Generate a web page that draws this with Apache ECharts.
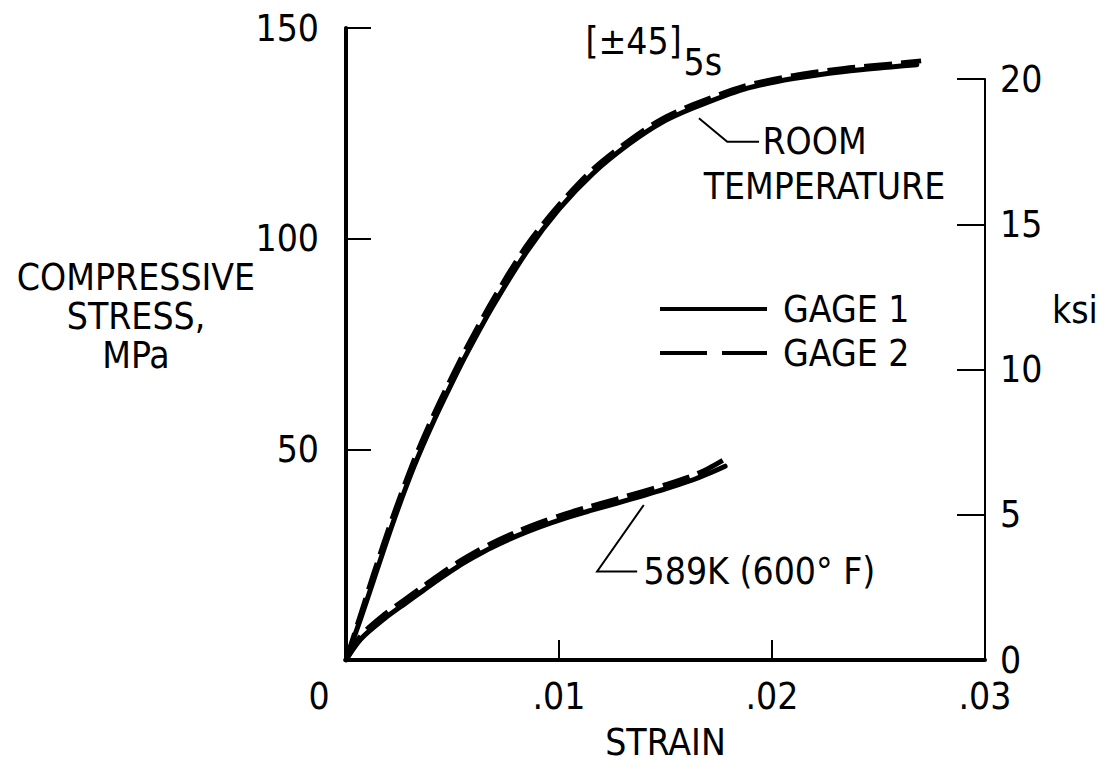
<!DOCTYPE html>
<html>
<head>
<meta charset="utf-8">
<script src="https://cdn.jsdelivr.net/npm/echarts@6/dist/echarts.min.js"></script>
<style>
html,body{margin:0;padding:0;background:#fff;}
#chart{width:1107px;height:768px;}
</style>
</head>
<body>
<div id="chart"></div>
<script>
// ---- Data ----
const xTicks = [0, 0.01, 0.02, 0.03];            // strain
const yTicksMPa = [0, 50, 100, 150];             // MPa
const yTicksKsi = [0, 5, 10, 15, 20];            // ksi

// Room temperature, gage 1 (solid)
const rtStrain1 = [0,0.0007,0.0013,0.0022,0.0032,0.0041,0.0050,0.0057,0.0069,0.0085,0.0100,0.0116,0.0133,0.0148,0.0163,0.0187,0.0210,0.0234,0.0257,0.0268];
const rtStress1 = [0,10,19,32.5,46,56.5,66,73,84,97,107,115.5,122.5,127.5,131,135.5,138,139.7,140.8,141.3];
// Room temperature, gage 2 (dashed)
const rtStrain2 = [0,0.0007,0.0013,0.0022,0.0032,0.0041,0.0050,0.0057,0.0069,0.0085,0.0100,0.0116,0.0133,0.0148,0.0163,0.0187,0.0210,0.0234,0.0257,0.0270];
const rtStress2 = [0,11,20.5,34,47.5,58,67.5,74.5,85.5,98.5,108,116.5,123.3,128.3,131.8,136.2,138.7,140.4,141.5,142.2];
// 589 K, gage 1 (solid)
const htStrain1 = [0,0.0007,0.0018,0.0028,0.0036,0.0044,0.0052,0.0060,0.0068,0.0080,0.0091,0.0103,0.0115,0.0127,0.0138,0.0150,0.0162,0.0170,0.0178];
const htStress1 = [0,5,9.8,13.5,16.4,19.3,22,24.4,26.6,29.4,31.6,33.7,35.5,37.2,38.8,40.6,42.6,44.2,46];
// 589 K, gage 2 (dashed)
const htStrain2 = [0,0.0007,0.0018,0.0028,0.0036,0.0044,0.0052,0.0060,0.0068,0.0080,0.0091,0.0103,0.0115,0.0127,0.0138,0.0150,0.0162,0.0170,0.0179];
const htStress2 = [0,5.8,10.8,14.5,17.4,20.3,23,25.4,27.6,30.4,32.6,34.7,36.5,38.2,39.8,41.6,43.6,45.4,48];

const seriesNames = ['GAGE 1', 'GAGE 2'];

// annotation anchors in data units [strain, MPa]
const roomLeader = [[0.01657,128.6],[0.0179,123.0],[0.01939,123.0]];
const hotLeader  = [[0.01398,36.8],[0.01179,21.0],[0.01367,21.0]];
const annotations = [
  {text:'[±45]', at:[0.01124,146.9]},
  {text:'5s', at:[0.01585,141.7]},
  {text:'ROOM', at:[0.01955,123.0]},
  {text:'TEMPERATURE', at:[0.01679,112.5]},
  {text:'589K (600° F)', at:[0.01397,21.0]}
];

// ---- Chart ----
const FONT_FAMILY = "'Liberation Sans Narrow','DejaVu Sans Condensed','Roboto Condensed',sans-serif";
const FS = 37;
const MPA_PER_KSI = 6.894757;

function pairs(xs, ys){ return xs.map((x,i)=>[x, ys[i]]); }

const chart = echarts.init(document.getElementById('chart'), null, {renderer:'svg'});

const grid0 = {left:346, right:122, top:28, bottom:108};
const ksiTopMPa = 20 * MPA_PER_KSI;
const plotH = 768 - grid0.top - grid0.bottom;
const grid1Top = grid0.top + plotH * (1 - ksiTopMPa/150);

const lineSolid = {color:'#000', width:5, type:'solid', cap:'round', join:'round'};
const lineDash  = {color:'#000', width:5, type:[28,9], cap:'butt', join:'round'};

const option = {
  backgroundColor:'#fff',
  animation:false,
  color:['#000'],
  textStyle:{fontFamily:FONT_FAMILY, color:'#000'},
  grid:[
    grid0,
    {left:346, right:122, top:grid1Top, bottom:108}
  ],
  legend:{
    orient:'vertical',
    left:660, top:289,
    itemWidth:107, itemHeight:4, itemGap:4,
    padding:0,
    itemStyle:{color:'#000', borderWidth:0},
    textStyle:{fontFamily:FONT_FAMILY, fontSize:FS, color:'#000', lineHeight:40, padding:[0,0,0,11]},
    data:[
      {name:seriesNames[0], icon:'path://M0,0H107V4H0Z'},
      {name:seriesNames[1], icon:'path://M0,0H47V4H0Z M62,0H107V4H62Z'}
    ],
    selectedMode:false
  },
  xAxis:[
    {
      gridIndex:0, type:'value', min:xTicks[0], max:xTicks[xTicks.length-1], interval:0.01,
      axisLine:{show:true, onZero:false, lineStyle:{color:'#000', width:4}},
      axisTick:{show:true, inside:true, length:20, lineStyle:{color:'#000', width:2}},
      splitLine:{show:false},
      axisLabel:{
        margin:18, fontSize:FS, fontFamily:FONT_FAMILY, color:'#000',
        formatter:function(v){ if (Math.abs(v) < 1e-12) return '{z|0}'; return String(+v.toFixed(2)).replace(/^0\./,'.'); },
        rich:{z:{fontSize:FS, fontFamily:FONT_FAMILY, color:'#000', padding:[0,54,0,0]}}
      },
      name:'STRAIN', nameLocation:'middle', nameGap:64,
      nameTextStyle:{fontSize:FS, fontFamily:FONT_FAMILY, color:'#000'}
    },
    {gridIndex:1, type:'value', min:0, max:0.03, show:false}
  ],
  yAxis:[
    {
      gridIndex:0, type:'value', min:yTicksMPa[0], max:yTicksMPa[yTicksMPa.length-1], interval:50,
      axisLine:{show:true, onZero:false, lineStyle:{color:'#000', width:4}},
      axisTick:{show:true, inside:true, length:25, lineStyle:{color:'#000', width:2}},
      splitLine:{show:false},
      axisLabel:{margin:27, fontSize:FS, fontFamily:FONT_FAMILY, color:'#000',
        formatter:function(v){ return v===0 ? '' : String(v); }}
    },
    {
      gridIndex:1, type:'value', position:'right', min:yTicksKsi[0], max:yTicksKsi[yTicksKsi.length-1], interval:5,
      axisLine:{show:true, onZero:false, lineStyle:{color:'#000', width:2}},
      axisTick:{show:true, inside:true, length:28, lineStyle:{color:'#000', width:2}},
      splitLine:{show:false},
      axisLabel:{margin:15, fontSize:FS, fontFamily:FONT_FAMILY, color:'#000'}
    }
  ],
  series:[
    {name:seriesNames[0], type:'line', xAxisIndex:0, yAxisIndex:0, data:pairs(rtStrain1, rtStress1), smooth:0.3, symbol:'none', itemStyle:{color:'#000'}, lineStyle:lineSolid, z:3},
    {name:seriesNames[1], type:'line', xAxisIndex:0, yAxisIndex:0, data:pairs(rtStrain2, rtStress2), smooth:0.3, symbol:'none', itemStyle:{color:'#000'}, lineStyle:lineDash, z:2},
    {name:seriesNames[0], type:'line', xAxisIndex:0, yAxisIndex:0, data:pairs(htStrain1, htStress1), smooth:0.3, symbol:'none', itemStyle:{color:'#000'}, lineStyle:lineSolid, z:3},
    {name:seriesNames[1], type:'line', xAxisIndex:0, yAxisIndex:0, data:pairs(htStrain2, htStress2), smooth:0.3, symbol:'none', itemStyle:{color:'#000'}, lineStyle:lineDash, z:2}
  ]
};
chart.setOption(option);

function toPx(p){ return chart.convertToPixel({gridIndex:0}, p); }
function txt(text, x, y, align, lh){
  return {type:'text', x:x, y:y, z:10,
    style:{text:text, fill:'#000', font:FS+'px '+FONT_FAMILY, lineHeight:lh||FS,
      textAlign:align||'left', align:align||'left', textVerticalAlign:'middle', verticalAlign:'middle'}};
}
const g = [];
annotations.forEach(a=>{ const p = toPx(a.at); g.push(txt(a.text, p[0], p[1], 'left')); });
[roomLeader, hotLeader].forEach(L=>{
  g.push({type:'polyline', z:10, shape:{points:L.map(toPx)}, style:{stroke:'#000', lineWidth:2, fill:null}});
});
// left axis title (three centred lines, one text block)
g.push(txt('COMPRESSIVE\nSTRESS,\nMPa', 136, 316, 'center', 39));
// right axis unit
g.push(txt('ksi', 1052, 310, 'left'));
chart.setOption({graphic:g});
</script>
</body>
</html>
